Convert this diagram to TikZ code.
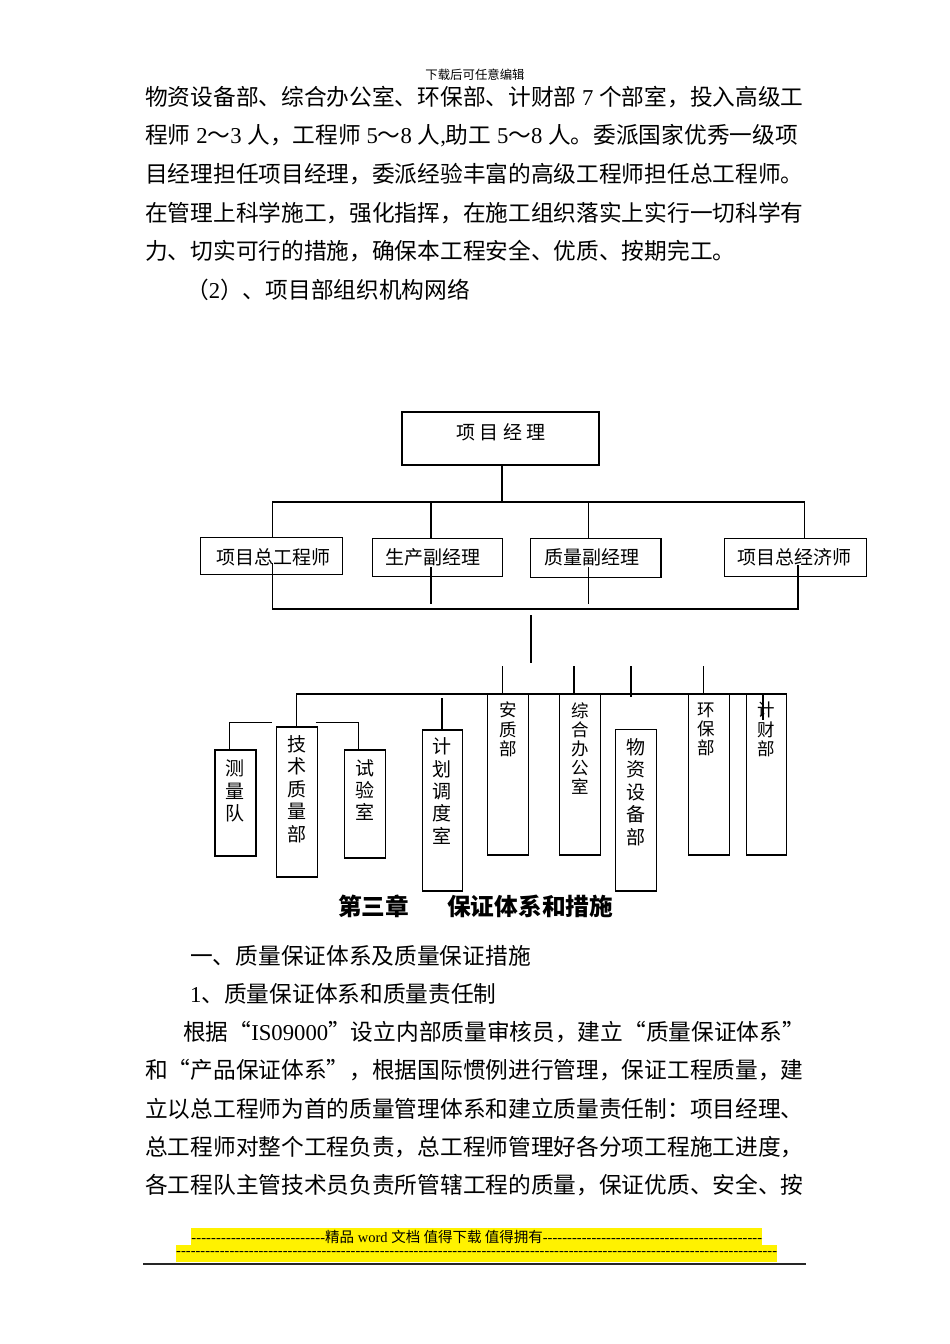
\documentclass[tikz,border=0pt]{standalone}
\usepackage{fontspec}
\setmainfont{Liberation Serif}
\newfontfamily\cjk{Noto Sans CJK SC}
\newfontfamily\lat{Liberation Serif}
\newcommand{\myLq}{\makebox[1em][r]{“}}
\newcommand{\myRq}{\makebox[1em][l]{”}}
\begin{document}
\begin{tikzpicture}[x=1pt,y=-1pt,
  box/.style={draw, line width=1.3pt, inner sep=0pt},
  wire/.style={line width=1.2pt},
  body/.style={anchor=west, inner sep=0pt, font=\cjk\fontsize{22.7}{22.7}\selectfont},
  lbl/.style={inner sep=0pt, font=\cjk\fontsize{19}{19}\selectfont},
  vt/.style={inner sep=0pt, align=center, font=\cjk\fontsize{19}{22.4}\selectfont},
  vts/.style={inner sep=0pt, align=center, font=\cjk\fontsize{17.5}{19.2}\selectfont},
  foot/.style={anchor=west, inner sep=0pt, font=\lat\fontsize{14.5}{14.5}\selectfont}]
\useasboundingbox (0,0) rectangle (950,1344);
\fill[white] (0,0) rectangle (950,1344);

% header
\node[inner sep=0pt, font=\cjk\fontsize{12.4}{12.4}\selectfont] (hd) at (475,75) {下载后可任意编辑};

% body text top
\node[body] (l1) at (145,97) {物资设备部、综合办公室、环保部、计财部{\lat\ 7 }个部室，投入高级工};
\node[body] (l2) at (145,136) {程师{\lat\ 2}～{\lat 3 }人，工程师{\lat\ 5}～{\lat 8 }人{\lat ,}助工{\lat\ 5}～{\lat 8 }人。委派国家优秀一级项};
\node[body] (l3) at (145,174.5) {目经理担任项目经理，委派经验丰富的高级工程师担任总工程师。};
\node[body] (l4) at (145,213) {在管理上科学施工，强化指挥，在施工组织落实上实行一切科学有};
\node[body] (l5) at (145,251.5) {力、切实可行的措施，确保本工程安全、优质、按期完工。};
\node[body] (l6) at (186,290) {（{\lat 2}）、项目部组织机构网络};

% top box
\node[box, minimum width=197pt, minimum height=53pt] (pm) at (500.5,438.5) {};
\node[lbl] (pmt) at (501,432) {项\hspace{4.5pt}目\hspace{4.5pt}经\hspace{4.5pt}理};

% second row
\node[box, minimum width=142pt, minimum height=37pt] (zg) at (271.5,556) {};
\node[box, minimum width=130pt, minimum height=38.5pt] (sc) at (437.3,557.5) {};
\node[box, minimum width=130.5pt, minimum height=39pt] (zl) at (595.8,557.8) {};
\node[box, minimum width=142.5pt, minimum height=38pt] (jj) at (795.5,557.8) {};
\node[lbl] (zgt) at (273,557) {项目总工程师};
\node[lbl] (sct) at (433,557.5) {生产副经理};
\node[lbl] (zlt) at (592,557.5) {质量副经理};
\node[lbl] (jjt) at (794,557.5) {项目总经济师};

% bus 1
\coordinate (b1L) at (272.7,502);
\coordinate (b1M) at (502,502);
\coordinate (b1a) at (431,502);
\coordinate (b1b) at (588.3,502);
\coordinate (b1R) at (804.3,502);
\draw[wire] (pm.south -| b1M) -- (b1M);
\draw[wire] (b1L |- zg.north) -- (b1L) -- (b1R) -- (b1R |- jj.north);
\draw[wire] (b1a) -- (b1a |- sc.north);
\draw[wire] (b1b) -- (b1b |- zl.north);

% bus 2
\coordinate (b2L) at (272.7,609);
\coordinate (b2R) at (798,609);
\coordinate (zgi) at (272.7,563);
\coordinate (jji) at (798,565);
\coordinate (sci) at (431,567);
\coordinate (sco) at (431,604);
\coordinate (zli) at (588.3,567);
\coordinate (zlo) at (588.3,604);
\draw[wire] (zgi) -- (b2L) -- (b2R) -- (jji);
\draw[wire] (sci) -- (sco);
\draw[wire] (zli) -- (zlo);
\coordinate (d1) at (531,615);
\coordinate (d2) at (531,663);
\draw[wire] (d1) -- (d2);

% lower boxes
\node[box, minimum width=41pt, minimum height=106pt] (cl) at (235.5,803) {};
\node[box, minimum width=40.5pt, minimum height=150pt] (js) at (297,802) {};
\node[box, minimum width=41pt, minimum height=108pt] (sy) at (364.7,804) {};
\node[box, minimum width=40.5pt, minimum height=161pt] (jh) at (442.5,810.5) {};
\node[box, minimum width=40.5pt, minimum height=161pt] (az) at (508,774.5) {};
\node[box, minimum width=40.5pt, minimum height=161pt] (zh) at (580,774.5) {};
\node[box, minimum width=41pt, minimum height=161.5pt] (wz) at (636.2,810.2) {};
\node[box, minimum width=40.5pt, minimum height=161pt] (hb) at (709,774.5) {};
\node[box, minimum width=40pt, minimum height=161pt] (jc) at (766.7,774.5) {};

\node[vt] (clt) at (235,791) {测\\量\\队};
\node[vt] (jst) at (297,789) {技\\术\\质\\量\\部};
\node[vt] (syt) at (365,790) {试\\验\\室};
\node[vt] (jht) at (442,791) {计\\划\\调\\度\\室};
\node[vt] (wzt) at (636,792) {物\\资\\设\\备\\部};
\node[vts] (azt) at (508,729.5) {安\\质\\部};
\node[vts] (zht) at (580,748.5) {综\\合\\办\\公\\室};
\node[vts] (hbt) at (706,729.5) {环\\保\\部};
\node[vts] (jct) at (766,729.5) {计\\财\\部};

% bus 3
\coordinate (b3L) at (296.7,694);
\coordinate (b3R) at (786.7,694);
\draw[wire] (js.north -| b3L) -- (b3L) -- (b3R);
\foreach \x/\e in {502.3/694, 574/694, 631/697, 703.3/694} {
  \draw[wire] (\x,666) -- (\x,\e);
}
\coordinate (jcl) at (763,720);
\draw[wire] (jcl |- b3R) -- (jcl);
\coordinate (jhu) at (442,698);
\draw[wire] (jhu) -- (jhu |- jh.north);
\coordinate (bkL) at (229.3,722.3);
\coordinate (bkLe) at (272.3,722.3);
\coordinate (bkR) at (358.7,722.3);
\coordinate (bkRs) at (315.7,722.3);
\draw[wire] (bkL |- cl.north) -- (bkL) -- (bkLe);
\draw[wire] (bkRs) -- (bkR) -- (bkR |- sy.north);

% chapter title
\node[anchor=west, inner sep=0pt, font=\cjk\bfseries\fontsize{23.7}{23.7}\selectfont] (ch) at (338,906) {第三章\hspace{38pt}保证体系和措施};

% body text bottom
\node[body] (m1) at (190,956) {一、质量保证体系及质量保证措施};
\node[body] (m2) at (190,994) {{\lat 1}、质量保证体系和质量责任制};
\node[body] (m3) at (183,1032) {根据\myLq{\lat IS09000}\myRq 设立内部质量审核员，建立\myLq 质量保证体系\myRq};
\node[body] (m4) at (145,1070.5) {和\myLq 产品保证体系\myRq ，根据国际惯例进行管理，保证工程质量，建};
\node[body] (m5) at (145,1109) {立以总工程师为首的质量管理体系和建立质量责任制：项目经理、};
\node[body] (m6) at (145,1147) {总工程师对整个工程负责，总工程师管理好各分项工程施工进度，};
\node[body] (m7) at (145,1185) {各工程队主管技术员负责所管辖工程的质量，保证优质、安全、按};

% footer
\fill[yellow] (191,1228) rectangle (762,1245);
\fill[yellow] (176,1245) rectangle (777,1262);
\node[foot] (f1) at (191,1236.5) {\hbox to 571pt{\xleaders\hbox{-}\hskip 0pt plus 135fil{\cjk 精品} word {\cjk 文档 值得下载 值得拥有}\xleaders\hbox{-}\hskip 0pt plus 221fil}};
\node[foot] (f2) at (176,1253.5) {\hbox to 601pt{\xleaders\hbox{-}\hfill}};
\draw[line width=1.6pt, black!85] (143,1263.8) -- (806,1263.8);
\end{tikzpicture}
\end{document}
